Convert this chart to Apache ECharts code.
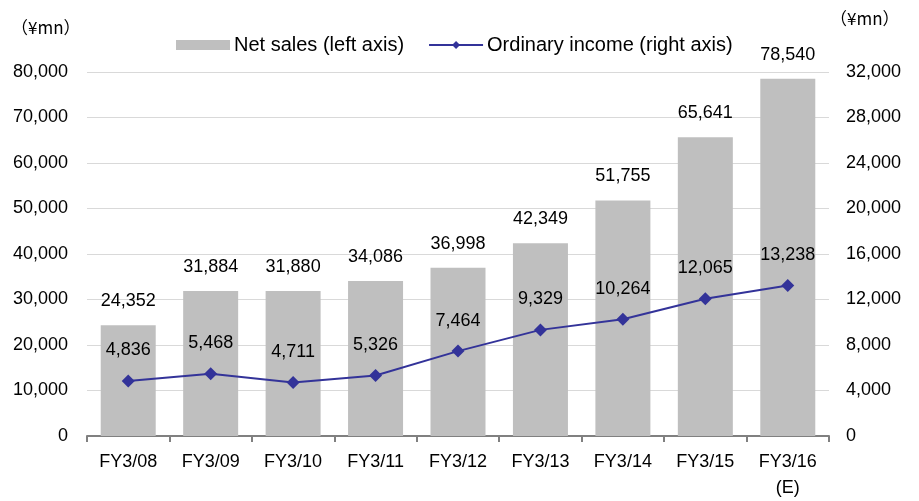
<!DOCTYPE html>
<html><head><meta charset="utf-8">
<script src="https://cdn.jsdelivr.net/npm/echarts@6/dist/echarts.min.js"></script>
<style>html,body{margin:0;padding:0;background:#fff}#c{width:919px;height:501px}</style>
</head><body><div id="c"></div>
<script>
const categories = ['FY3/08','FY3/09','FY3/10','FY3/11','FY3/12','FY3/13','FY3/14','FY3/15','FY3/16\n(E)'];
const netSales = [24352,31884,31880,34086,36998,42349,51755,65641,78540];
const ordinaryIncome = [4836,5468,4711,5326,7464,9329,10264,12065,13238];
const FONT = '"Liberation Sans", Arial, sans-serif';
const FS = 18;
const chart = echarts.init(document.getElementById('c'));
const fmt = v => Number(v).toLocaleString('en-US');
chart.setOption({
  animation:false,
  textStyle:{fontFamily:FONT},
  legend:{
    top:30, left:171, itemGap:24, itemWidth:54, itemHeight:10,
    textStyle:{fontSize:20,color:'#000',fontFamily:FONT,padding:[0,0,0,-1]},
    data:[{name:'Net sales (left axis)',icon:'rect'},{name:'Ordinary income (right axis)'}]
  },
  graphic:[
    {type:'text',left:11,top:19,style:{text:'（¥mn）',font:'17px "Noto Sans CJK JP", sans-serif',fill:'#000'}},
    {type:'text',left:830,top:10,style:{text:'（¥mn）',font:'17px "Noto Sans CJK JP", sans-serif',fill:'#000'}}
  ],
  grid:{left:87,right:90,top:72,bottom:62},
  xAxis:{
    type:'category', data:categories,
    axisLine:{lineStyle:{color:'#808080',width:2}},
    axisTick:{show:true,length:6,lineStyle:{color:'#808080',width:2}},
    axisLabel:{fontSize:FS,color:'#000',margin:13,lineHeight:26,fontFamily:FONT}
  },
  yAxis:[
    {type:'value',min:0,max:80000,interval:10000,
     axisLine:{show:false},axisTick:{show:false},
     splitLine:{lineStyle:{color:'#d9d9d9',width:1}},
     axisLabel:{fontSize:FS,color:'#000',margin:19,formatter:fmt,fontFamily:FONT}},
    {type:'value',min:0,max:32000,interval:4000,
     axisLine:{show:false},axisTick:{show:false},splitLine:{show:false},
     axisLabel:{fontSize:FS,color:'#000',margin:17,formatter:fmt,fontFamily:FONT}}
  ],
  series:[
    {name:'Net sales (left axis)',type:'bar',yAxisIndex:0,data:netSales,barWidth:55,
     itemStyle:{color:'#bfbfbf'},
     label:{show:true,position:'top',distance:15,fontSize:FS,color:'#000',formatter:p=>fmt(p.value),fontFamily:FONT}},
    {name:'Ordinary income (right axis)',type:'line',yAxisIndex:1,data:ordinaryIncome,
     symbol:'diamond',symbolSize:13,
     lineStyle:{color:'#333399',width:2},itemStyle:{color:'#333399'},
     label:{show:true,position:'top',distance:15,fontSize:FS,color:'#000',formatter:p=>fmt(p.value),fontFamily:FONT}}
  ]
});
</script></body></html>
